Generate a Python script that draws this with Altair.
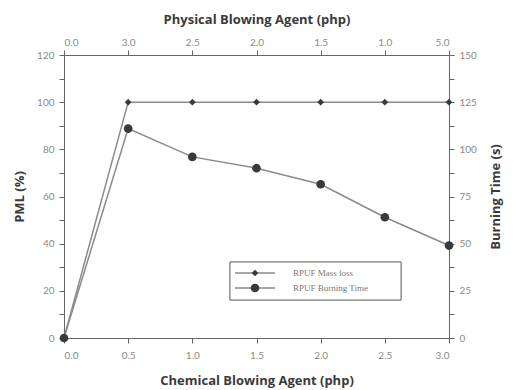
import altair as alt
import pandas as pd

chem = [0.0, 0.5, 1.0, 1.5, 2.0, 2.5, 3.0]
mass_loss = [0, 100, 100, 100, 100, 100, 100]
burn_time = [0, 111, 96, 90, 81.5, 64, 49]
top_labels = ["0.0", "3.0", "2.5", "2.0", "1.5", "1.0", "5.0"]
left_ticks = list(range(0, 121, 10))
right_ticks = [i * 12.5 for i in range(13)]
series = ["RPUF Mass loss", "RPUF Burning Time"]

df = pd.DataFrame({"chem": chem, "mass": mass_loss, "burn": burn_time})

LBL = "Lato"
TTL = "Open Sans"
AX = dict(labelFont=LBL, labelFontSize=10, labelColor="#8a8a8a", titleFont=TTL,
          titleFontSize=13, titleFontWeight="bold", titleColor="#3a3a3a",
          domainColor="#666", tickColor="#666", tickSize=5, grid=False)

line_col = "#8a8a8a"
pt_col = "#3a3a3a"

xs = alt.Scale(domain=[0, 3], nice=False, zero=False)

x_bottom = alt.X("chem:Q", scale=xs, axis=alt.Axis(
    title="Chemical Blowing Agent (php)", values=chem, format=".1f",
    orient="bottom", titlePadding=14, labelPadding=7, **AX))

top_expr = "[" + ",".join("'%s'" % s for s in top_labels) + "][round(datum.value*2)]"
x_top = alt.X("chem:Q", scale=xs, axis=alt.Axis(
    title="Physical Blowing Agent (php)", values=chem, labelExpr=top_expr,
    orient="top", titlePadding=11, labelPadding=3, **AX))

y_left = alt.Y("mass:Q", scale=alt.Scale(domain=[0, 120], nice=False), axis=alt.Axis(
    title="PML (%)", values=left_ticks, orient="left", labelPadding=5,
    labelExpr="datum.value % 20 == 0 ? datum.label : ''", titlePadding=10, **AX))

y_right = alt.Y("burn:Q", scale=alt.Scale(domain=[0, 150], nice=False), axis=alt.Axis(
    title="Burning Time (s)", values=right_ticks, orient="right", labelPadding=5,
    titleAngle=270, titleBaseline="bottom",
    labelExpr="datum.value % 25 == 0 ? datum.label : ''", titlePadding=26, **AX))

base = alt.Chart(df)
left = alt.layer(
    base.mark_line(color=line_col, strokeWidth=1.5).encode(x=x_bottom, y=y_left),
    base.mark_point(shape="diamond", filled=True, color=pt_col, size=45, opacity=1).encode(x=x_bottom, y=y_left),
)
right = alt.layer(
    base.mark_line(color=line_col, strokeWidth=1.5).encode(x=x_top, y=y_right),
    base.mark_point(shape="circle", filled=True, color=pt_col, size=75, opacity=1).encode(x=x_top, y=y_right),
)

# manual legend box
leg = pd.DataFrame({"s": series})
box = alt.Chart(leg).mark_rect(fill="white", stroke="#777", strokeWidth=1).encode(
    x=alt.value(166), x2=alt.value(337), y=alt.value(207), y2=alt.value(245))
legend_layers = [box]
for i, (name, shp, sz) in enumerate(zip(series, ["diamond", "circle"], [45, 75])):
    yy = 218 + i * 15
    d = alt.Chart(pd.DataFrame({"s": [name]}))
    legend_layers.append(d.mark_rule(color=line_col, strokeWidth=1.5).encode(
        x=alt.value(171), x2=alt.value(211), y=alt.value(yy)))
    legend_layers.append(d.mark_point(shape=shp, filled=True, color=pt_col, size=sz, opacity=1).encode(
        x=alt.value(191), y=alt.value(yy)))
    legend_layers.append(d.mark_text(align="left", baseline="middle", font="Liberation Serif",
                                     fontSize=9, color="#777").encode(
        x=alt.value(229), y=alt.value(yy), text="s:N"))

chart = alt.layer(left, right, *legend_layers).resolve_scale(
    x="independent", y="independent").properties(
    width=385, height=283, background="white").configure_view(stroke=None)

chart.save("out.html", embed_options={"renderer": "svg", "actions": False})
